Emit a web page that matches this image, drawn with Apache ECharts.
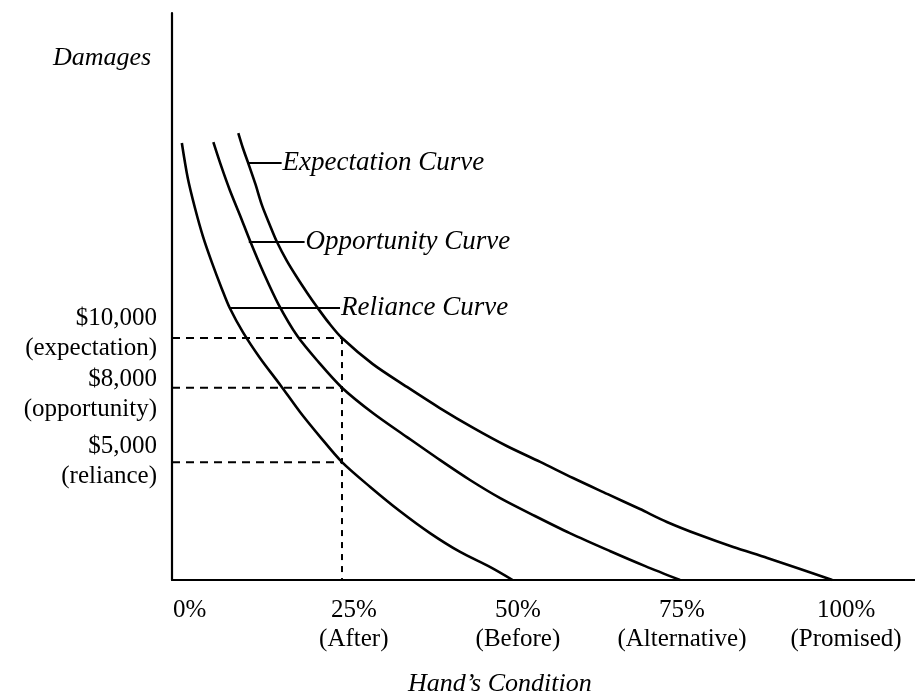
<!DOCTYPE html>
<html>
<head>
<meta charset="utf-8">
<title>Damages</title>
<script src="https://cdn.jsdelivr.net/npm/echarts@6/dist/echarts.min.js"></script>
<style>
  html, body { margin: 0; padding: 0; background: #fff; }
  #chart { width: 915px; height: 695px; }
</style>
</head>
<body>
<div id="chart"></div>
<script>
// x = Hand's condition (%), y = damages ($)
var relianceCurve = [[-1.2, 17860], [-0.3, 16450], [0.8, 15240], [2.0, 14110], [3.4, 13030],
  [4.9, 11980], [6.1, 11210], [8.1, 10240], [10.7, 9200], [13.8, 8110], [16.8, 7020],
  [19.9, 6010], [23.2, 5000], [27.5, 4000], [32.0, 3030], [36.6, 2140], [41.2, 1380],
  [45.8, 770], [49.2, 250]];
var opportunityCurve = [[3.6, 17900], [4.8, 16930], [6.1, 15970], [7.7, 14920], [9.2, 13910],
  [11.2, 12660], [13.5, 11370], [16.4, 10080], [19.6, 9040], [23.2, 8000], [27.9, 6980],
  [33.1, 6010], [38.1, 5090], [42.7, 4280], [47.3, 3550], [52.6, 2830], [57.9, 2140],
  [64.0, 1420], [69.4, 810], [74.7, 250]];
var expectationCurve = [[7.4, 18260], [8.1, 17660], [8.9, 17060], [10.0, 16210], [11.0, 15360],
  [12.2, 14560], [13.3, 13870], [14.8, 13110], [16.4, 12420], [17.9, 11820], [19.4, 11250],
  [21.2, 10610], [23.2, 10000], [27.9, 8950], [33.1, 8030], [38.1, 7180], [43.2, 6380],
  [48.3, 5650], [53.4, 5010], [58.4, 4360], [63.6, 3720], [68.6, 3110], [72.7, 2590],
  [77.7, 2060], [82.8, 1580], [88.0, 1140], [93.0, 690], [97.9, 250]];

// curve names and their leader lines
var curveNames = ['Expectation Curve', 'Opportunity Curve', 'Reliance Curve'];
var leaderY = [17060, 13870, 11210];
var leaderFrom = [8.8, 9.0, 6.1];
var leaderTo = [14.0, 17.5, 22.9];

// dashed guides at the "after" condition
var guideX = 23.2;
var guideLevels = [10000, 8000, 5000];
var guideLabels = ['$10,000\n(expectation)', '$8,000\n(opportunity)', '$5,000\n(reliance)'];

// x tick labels
var xTicks = [0, 25, 50, 75, 100];
var xTickLabels = ['0%', '25%\n(After)', '50%\n(Before)', '75%\n(Alternative)', '100%\n(Promised)'];

var xMin = -2.7, xMax = 110.5;
var yMin = 250, yMax = 23100;

var serif = '"Liberation Serif", "DejaVu Serif", serif';
var chart = echarts.init(document.getElementById('chart'));

var series = [];
[expectationCurve, opportunityCurve, relianceCurve].forEach(function (d) {
  series.push({
    type: 'line', data: d, symbol: 'none', smooth: 0.3,
    lineStyle: { color: '#000', width: 2.6 }, silent: true
  });
});
guideLevels.forEach(function (v) {
  series.push({
    type: 'line', data: [[xMin, v], [guideX, v]], symbol: 'none',
    lineStyle: { color: '#000', width: 2, type: [8, 6] }, silent: true
  });
});
series.push({
  type: 'line', data: [[guideX, guideLevels[0]], [guideX, yMin]], symbol: 'none',
  lineStyle: { color: '#000', width: 2, type: [6, 6] }, silent: true
});
// y-side labels for the three damage levels (the printed labels sit a bit off their lines)
var labelShift = [-5, 7, -1];
series.push({
  type: 'scatter', symbolSize: 0, silent: true, clip: false,
  itemStyle: { opacity: 1 },
  data: guideLevels.map(function (v, i) {
    return { value: [xMin, v], label: { offset: [0, labelShift[i]] } };
  }),
  label: {
    show: true, position: 'left', distance: 15, align: 'right', color: '#000', opacity: 1,
    fontFamily: serif, fontSize: 25, lineHeight: 30,
    formatter: function (p) { return guideLabels[p.dataIndex]; }
  }
});
curveNames.forEach(function (name, i) {
  series.push({
    type: 'line', name: name, data: [[leaderFrom[i], leaderY[i]], [leaderTo[i], leaderY[i]]],
    symbol: 'none', lineStyle: { color: '#000', width: 2 }, silent: true,
    endLabel: {
      show: true, formatter: name, distance: 1, color: '#000',
      fontFamily: serif, fontStyle: 'italic', fontSize: 27
    }
  });
});

var option = {
  animation: false,
  backgroundColor: '#fff',
  grid: { left: 172, right: 0, top: 13, bottom: 115, containLabel: false },
  title: [
    { text: 'Damages', left: 48, top: 40,
      textStyle: { fontFamily: serif, fontStyle: 'italic', fontWeight: 'normal', fontSize: 26, color: '#000' } },
    { text: 'Hand\u2019s Condition', left: 403, top: 666,
      textStyle: { fontFamily: serif, fontStyle: 'italic', fontWeight: 'normal', fontSize: 26, color: '#000' } }
  ],
  xAxis: {
    type: 'value', min: xMin, max: xMax,
    axisLine: { onZero: false, lineStyle: { color: '#000', width: 2.2 } },
    axisTick: { show: false },
    splitLine: { show: false },
    axisLabel: {
      customValues: xTicks, margin: 16, color: '#000',
      fontFamily: serif, fontSize: 25, lineHeight: 29,
      formatter: function (v) { return xTickLabels[xTicks.indexOf(v)]; }
    }
  },
  yAxis: {
    type: 'value', min: yMin, max: yMax,
    axisLine: { show: true, onZero: false, lineStyle: { color: '#000', width: 2.2 } },
    axisTick: { show: false },
    splitLine: { show: false },
    axisLabel: { show: false }
  },
  series: series
};
chart.setOption(option);
</script>
</body>
</html>
